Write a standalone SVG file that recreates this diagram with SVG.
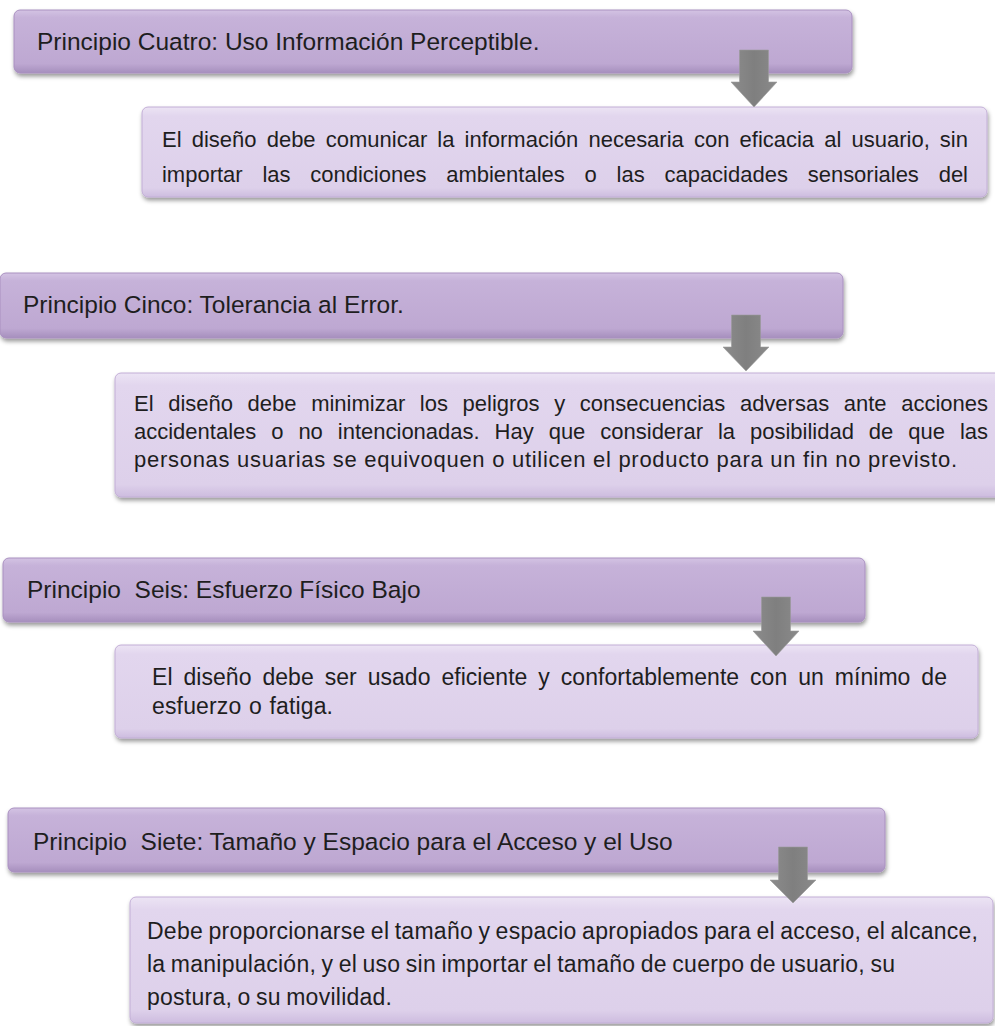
<svg xmlns="http://www.w3.org/2000/svg" width="995" height="1026" viewBox="0 0 995 1026">
<defs>
<linearGradient id="gHead" x1="0" y1="0" x2="0" y2="1">
<stop offset="0" stop-color="#d3c3e3"/>
<stop offset="0.12" stop-color="#c6b2d9"/>
<stop offset="0.85" stop-color="#bea8d2"/>
<stop offset="1" stop-color="#a68fbd"/>
</linearGradient>
<linearGradient id="gDet" x1="0" y1="0" x2="0" y2="1">
<stop offset="0" stop-color="#ece4f4"/>
<stop offset="0.1" stop-color="#e2d6ee"/>
<stop offset="0.9" stop-color="#ddd0ea"/>
<stop offset="1" stop-color="#cdbcdf"/>
</linearGradient>
<linearGradient id="gArrow" x1="0" y1="0" x2="1" y2="0">
<stop offset="0" stop-color="#8c8c8c"/>
<stop offset="0.5" stop-color="#7f7f7f"/>
<stop offset="1" stop-color="#8a8a8a"/>
</linearGradient>
<filter id="shadow" x="-5%" y="-20%" width="110%" height="150%">
<feDropShadow dx="1" dy="3" stdDeviation="2" flood-color="#000" flood-opacity="0.4"/>
</filter>
</defs>
<style>
.head{fill:url(#gHead);stroke:#a990c0;stroke-width:1;filter:url(#shadow)}
.det{fill:url(#gDet);stroke:#c2aed6;stroke-width:1;filter:url(#shadow)}
.ht{font-family:"Liberation Sans",Arial,sans-serif;font-size:24.5px;fill:#1e1e1e;white-space:pre}
.dt{font-family:"Liberation Sans",Arial,sans-serif;font-size:22px;fill:#1e1e1e;white-space:pre}
.dt3{font-family:"Liberation Sans",Arial,sans-serif;font-size:23px;fill:#1e1e1e;white-space:pre}
.dt4{font-family:"Liberation Sans",Arial,sans-serif;font-size:23px;fill:#1e1e1e;white-space:pre;word-spacing:-1.2px}
.arr{fill:url(#gArrow);stroke:#9a9a9a;stroke-width:0.6}
</style>
<rect width="995" height="1026" fill="#ffffff"/>

<g id="detalle-cuatro">
<rect class="det" x="142" y="107" width="845" height="90" rx="6"/>
<text class="dt" x="162" y="147" word-spacing="4" textLength="806" lengthAdjust="spacing">El diseño debe comunicar la información necesaria con eficacia al usuario, sin</text>
<text class="dt" x="162" y="182" word-spacing="13.7" textLength="806" lengthAdjust="spacing">importar las condiciones ambientales o las capacidades sensoriales del</text>
</g>

<g id="principio-cuatro">
<rect class="head" x="14" y="10" width="838" height="63" rx="6"/>
<text class="ht" x="37" y="50">Principio Cuatro: Uso Información Perceptible.</text>
</g>

<g id="detalle-cinco">
<rect class="det" x="115" y="373" width="895" height="124" rx="6"/>
<text class="dt" x="134" y="411" word-spacing="8.5" textLength="854" lengthAdjust="spacing">El diseño debe minimizar los peligros y consecuencias adversas ante acciones</text>
<text class="dt" x="134" y="439" word-spacing="8.8" textLength="854" lengthAdjust="spacing">accidentales o no intencionadas. Hay que considerar la posibilidad de que las</text>
<text class="dt" x="134" y="467" textLength="823" lengthAdjust="spacing">personas usuarias se equivoquen o utilicen el producto para un fin no previsto.</text>
</g>

<g id="principio-cinco">
<rect class="head" x="0" y="273" width="843" height="65" rx="6"/>
<text class="ht" x="23" y="313">Principio Cinco: Tolerancia al Error.</text>
</g>

<g id="detalle-seis">
<rect class="det" x="115" y="645" width="863" height="93" rx="6"/>
<text class="dt3" x="152" y="685" word-spacing="4.5" textLength="795" lengthAdjust="spacing">El diseño debe ser usado eficiente y confortablemente con un mínimo de</text>
<text class="dt3" x="152" y="714" word-spacing="1" textLength="181" lengthAdjust="spacing">esfuerzo o fatiga.</text>
</g>

<g id="principio-seis">
<rect class="head" x="3" y="558" width="862" height="64" rx="6"/>
<text class="ht" x="27" y="598">Principio  Seis: Esfuerzo Físico Bajo</text>
</g>

<g id="detalle-siete">
<rect class="det" x="130" y="897" width="863" height="126" rx="6"/>
<text class="dt4" x="147" y="939" textLength="831" lengthAdjust="spacing">Debe proporcionarse el tamaño y espacio apropiados para el acceso, el alcance,</text>
<text class="dt4" x="147" y="972" textLength="748" lengthAdjust="spacing">la manipulación, y el uso sin importar el tamaño de cuerpo de usuario, su</text>
<text class="dt4" x="147" y="1005" textLength="245" lengthAdjust="spacing">postura, o su movilidad.</text>
</g>

<g id="principio-siete">
<rect class="head" x="8" y="808" width="877" height="64" rx="6"/>
<text class="ht" x="33" y="850">Principio  Siete: Tamaño y Espacio para el Acceso y el Uso</text>
</g>

<g id="connectors">
<path class="arr" d="M739.5,50 H768.5 V82 H777 L754,107 L731,82 H739.5 Z"/>
<path class="arr" d="M731.5,315 H760.5 V347 H769 L746,371 L723,347 H731.5 Z"/>
<path class="arr" d="M761.5,597 H790.5 V631 H799 L776,656 L753,631 H761.5 Z"/>
<path class="arr" d="M778.5,847 H807.5 V880 H816 L793,903 L770,880 H778.5 Z"/>
</g>
</svg>
